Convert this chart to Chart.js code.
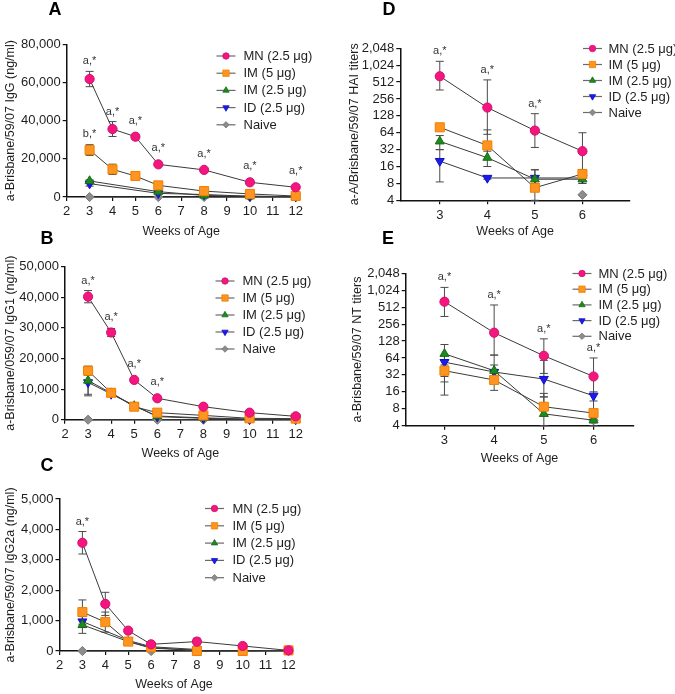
<!DOCTYPE html>
<html><head><meta charset="utf-8">
<script src="https://cdn.jsdelivr.net/npm/chart.js@4/dist/chart.umd.min.js"></script>
<style>
html,body{margin:0;padding:0;background:#fff;}
#wrap{position:relative;width:675px;height:694px;overflow:hidden;background:#fff;}
#wrap canvas{position:absolute;left:0;top:0;}
</style></head><body>
<div id="wrap">
<canvas id="cA" width="675" height="694"></canvas>
<canvas id="cB" width="675" height="694"></canvas>
<canvas id="cC" width="675" height="694"></canvas>
<canvas id="cD" width="675" height="694"></canvas>
<canvas id="cE" width="675" height="694"></canvas>
</div>
<script>
// ================= DATA =================
const groupNames = ['MN (2.5 μg)', 'IM (5 μg)', 'IM (2.5 μg)', 'ID (2.5 μg)', 'Naive'];
const xTicksLinear = [2,3,4,5,6,7,8,9,10,11,12];
const xTicksDE = [3,4,5,6];
const yTicksLog = [4,8,16,32,64,128,256,512,1024,2048];

// Panel A: IgG (ng/ml)
const A_weeksFull = [3,4,5,6,8,10,12];
const A_weeksPart = [3,6,8,10,12];
const A_MN = [61800, 35600, 31600, 17100, 14200, 7700, 5100];
const A_MN_sem = [4000, 3900, 1300, 600, 500, 400, 300];
const A_IM5 = [24600, 14500, 11000, 6100, 3100, 1600, 500];
const A_IM5_sem = [2800, 2700, 600, 400, 300, 200, 100];
const A_IM25 = [8400, 2800, 800, 400, 150];
const A_IM25_sem = [600, 300, 200, 100, 50];
const A_ID = [7000, 1900, 1300, 400, 150];
const A_ID_sem = [1300, 300, 200, 100, 50];
const A_Naive = [0, 0, 0, 0, 0];
const A_MN_notes = ['a,*','a,*','a,*','a,*','a,*','a,*','a,*'];
const A_IM5_notes = ['b,*', null, null, null, null, null, null];

// Panel B: IgG1 (ng/ml)
const B_weeks = [3,4,5,6,8,10,12];
const B_weeksNaive = [3,6,8,10,12];
const B_MN = [40200, 28500, 13000, 7000, 4250, 2300, 1100];
const B_MN_sem = [2000, 1300, 400, 300, 200, 150, 100];
const B_IM5 = [16000, 8800, 4250, 2300, 1400, 450, 350];
const B_IM5_sem = [1500, 1200, 300, 200, 150, 100, 50];
const B_IM25 = [12800, 8700, 4500, 1200, 600, 200, 100];
const B_IM25_sem = [4500, 800, 300, 200, 100, 50, 50];
const B_ID = [12200, 8400, 4600, 1000, 450, 100, 100];
const B_ID_sem = [4400, 800, 300, 200, 100, 50, 50];
const B_Naive = [0, 0, 0, 0, 0];
const B_MN_notes = ['a,*','a,*','a,*','a,*', null, null, null];

// Panel C: IgG2a (ng/ml)
const C_weeks = [3,4,5,6,8,10,12];
const C_weeksPart = [3,5,6,8];
const C_weeksNaive = [3,6,8,12];
const C_MN = [3560, 1550, 670, 220, 310, 165, 20];
const C_MN_sem = [370, 380, 50, 40, 110, 30, 10];
const C_IM5 = [1280, 950, 310, 120, 0, 0, 20];
const C_IM5_sem = [400, 330, 110, 30, 20, 0, 10];
const C_IM25 = [860, 310, 90, 30];
const C_IM25_sem = [280, 60, 30, 20];
const C_ID = [970, 350, 140, 50];
const C_ID_sem = [200, 60, 30, 20];
const C_Naive = [0, 0, 0, 0];
const C_MN_notes = ['a,*', null, null, null, null, null, null];

// Panel D: HAI titers (log2)
const D_weeks = [3,4,5,6];
const D_weeksNaive = [6];
const D_MN = [650, 180, 70, 30];
const D_MN_lo = [370, 60, 35, 14];
const D_MN_hi = [1200, 560, 140, 64];
const D_IM5 = [80, 38, 6.7, 11.8];
const D_IM5_lo = [72, 30, 4, 9];
const D_IM5_hi = [88, 72, 10, 14];
const D_IM25 = [45, 23, 9.5, 9.5];
const D_IM25_lo = [32, 16, 7, 8];
const D_IM25_hi = [57, 40, 14, 12];
const D_ID = [20, 10, 10, 10];
const D_ID_lo = [8.5, 9.5, 8, 8];
const D_ID_hi = [32, 10.5, 14, 12];
const D_Naive = [5];
const D_MN_notes = ['a,*','a,*','a,*', null];

// Panel E: NT titers (log2)
const E_weeks = [3,4,5,6];
const E_weeksNaive = [6];
const E_MN = [640, 180, 70, 30];
const E_MN_lo = [350, 72, 34, 4];
const E_MN_hi = [1150, 560, 140, 64];
const E_IM5 = [38, 26, 8.7, 6.7];
const E_IM5_lo = [14, 17, 6, 6];
const E_IM5_hi = [48, 40, 15, 7.5];
const E_IM25 = [76, 38, 6.5, 5];
const E_IM25_lo = [24, 30, 4, 4.5];
const E_IM25_hi = [111, 72, 13, 5.5];
const E_ID = [54, 36, 27, 13.6];
const E_ID_lo = [30, 24, 13, 11];
const E_ID_hi = [70, 48, 58, 16];
const E_Naive = [5];
const E_MN_notes = ['a,*','a,*','a,*','a,*'];

// ================= STYLE =================
const FONT = "'Liberation Sans', Arial, Helvetica, sans-serif";
Chart.defaults.font.family = FONT;
Chart.defaults.font.size = 13;
Chart.defaults.color = '#1e1e1e';
const seriesStyles = [
  {pointStyle:'circle',  radius:4.6, rotation:0,   fill:'#F5157F', edge:'#D40E6C'},
  {pointStyle:'rect',    radius:6.4, rotation:0,   fill:'#FF9420', edge:'#F08000'},
  {pointStyle:'triangle',radius:5.2, rotation:0,   fill:'#1E8A1E', edge:'#146E14'},
  {pointStyle:'triangle',radius:5.2, rotation:180, fill:'#1B1BEF', edge:'#1010C0'},
  {pointStyle:'rectRot', radius:4.6, rotation:0,   fill:'#8C8C8C', edge:'#7A7A7A'}
];

function series(idx, weeks, vals, extra) {
  const s = seriesStyles[idx];
  return Object.assign({
    label: groupNames[idx],
    data: weeks.map((w, i) => ({x: w, y: vals[i]})),
    borderColor: '#3a3a3a',
    borderWidth: 1,
    pointStyle: s.pointStyle,
    pointRotation: s.rotation,
    pointRadius: s.radius,
    pointHoverRadius: s.radius,
    pointBackgroundColor: s.fill,
    pointBorderColor: s.edge,
    pointBorderWidth: 1,
    tension: 0,
    clip: false,
    styleIdx: idx
  }, extra || {});
}

// ================= PLUGINS =================
const errBarPlugin = {
  id: 'errBars',
  beforeDatasetsDraw(chart) {
    const ctx = chart.ctx, xS = chart.scales.x, yS = chart.scales.y;
    ctx.save();
    ctx.strokeStyle = '#4a4a4a';
    ctx.lineWidth = 1;
    chart.data.datasets.forEach(ds => {
      ds.data.forEach((p, i) => {
        let lo, hi;
        if (ds.errLo) { lo = ds.errLo[i]; hi = ds.errHi[i]; }
        else if (ds.sem) { lo = p.y - ds.sem[i]; hi = p.y + ds.sem[i]; }
        else return;
        if (lo == null || hi == null || !(hi > lo)) return;
        const x = xS.getPixelForValue(p.x);
        const loC = Math.max(lo, yS.min);
        const yLo = yS.getPixelForValue(loC);
        const yHi = yS.getPixelForValue(hi);
        ctx.beginPath();
        ctx.moveTo(x, yLo); ctx.lineTo(x, yHi);
        ctx.moveTo(x - 4, yHi); ctx.lineTo(x + 4, yHi);
        if (lo >= yS.min) { ctx.moveTo(x - 4, yLo); ctx.lineTo(x + 4, yLo); }
        ctx.stroke();
      });
    });
    ctx.restore();
  },
  afterDatasetsDraw(chart) {
    const ctx = chart.ctx, xS = chart.scales.x, yS = chart.scales.y;
    ctx.save();
    ctx.font = '11px ' + FONT;
    ctx.fillStyle = '#333';
    ctx.textAlign = 'center';
    ctx.textBaseline = 'middle';
    chart.data.datasets.forEach(ds => {
      if (!ds.notes) return;
      ds.data.forEach((p, i) => {
        const t = ds.notes[i];
        if (!t) return;
        let top = p.y;
        if (ds.errHi) top = ds.errHi[i];
        else if (ds.sem) top = p.y + ds.sem[i];
        const x = xS.getPixelForValue(p.x);
        const y = Math.min(yS.getPixelForValue(top), yS.getPixelForValue(p.y) - 6) - 10;
        ctx.fillText(t, x, y);
      });
    });
    ctx.restore();
  }
};

const legendPlugin = {
  id: 'gLegend',
  afterDraw(chart, args, opts) {
    if (!opts || opts.x == null) return;
    const ctx = chart.ctx;
    ctx.save();
    chart.data.datasets.forEach((ds, i) => {
      const s = seriesStyles[ds.styleIdx];
      const y = opts.y + i * opts.dy;
      ctx.strokeStyle = '#6a6a6a';
      ctx.lineWidth = 1.2;
      ctx.beginPath(); ctx.moveTo(opts.x - 9.5, y); ctx.lineTo(opts.x + 9.5, y); ctx.stroke();
      ctx.fillStyle = s.fill;
      ctx.strokeStyle = s.edge;
      ctx.lineWidth = 0.8;
      Chart.helpers.drawPoint(ctx, {pointStyle: s.pointStyle, rotation: s.rotation, radius: s.radius * 0.7, borderWidth: 0.8}, opts.x, y);
      ctx.fillStyle = '#1e1e1e';
      ctx.font = '13px ' + FONT;
      ctx.textAlign = 'left';
      ctx.textBaseline = 'middle';
      ctx.fillText(ds.label, opts.textX, y + 0.5);
    });
    ctx.restore();
  }
};

const panelLabelPlugin = {
  id: 'panelLabel',
  afterDraw(chart, args, opts) {
    if (!opts || !opts.text) return;
    const ctx = chart.ctx;
    ctx.save();
    ctx.font = 'bold 18px ' + FONT;
    ctx.fillStyle = '#000';
    ctx.textAlign = 'center';
    ctx.textBaseline = 'middle';
    ctx.fillText(opts.text, opts.x, opts.y);
    ctx.restore();
  }
};

// ================= CHART BUILDER =================
const W = 675, H = 694, TITLE_OFF = 7.5;
function buildChart(id, datasets, p) {
  const padLeft = p.yTitleX - TITLE_OFF;
  const yW = p.left - padLeft;
  const xH = p.xTitleY + TITLE_OFF - p.bottom;
  const padBottom = H - p.bottom - xH;
  const axisGrid = {display: true, drawOnChartArea: false, drawTicks: true, tickLength: 4, color: '#111', lineWidth: 1.2};
  const axisBorder = {display: true, color: '#111', width: 1.5};
  const titleFont = {size: 12.5, family: FONT};
  const xScale = {
    type: 'linear', min: p.xMin, max: p.xMax,
    grid: axisGrid, border: axisBorder,
    ticks: {autoSkip: false, maxRotation: 0, padding: 3, font: {size: 13}, callback: v => String(v)},
    afterBuildTicks: s => { s.ticks = p.xTicks.map(v => ({value: v})); },
    afterFit: s => { s.height = xH; },
    title: {display: true, text: 'Weeks of Age', font: titleFont, padding: 0, color: '#1e1e1e'}
  };
  const yScale = {
    type: p.log ? 'logarithmic' : 'linear', min: p.yMin, max: p.yMax,
    grid: axisGrid, border: axisBorder,
    ticks: {autoSkip: false, padding: 2, font: {size: 13}, callback: v => Number(v).toLocaleString('en-US')},
    afterBuildTicks: s => { s.ticks = p.yTicks.map(v => ({value: v})); },
    afterFit: s => { s.width = yW; },
    title: {display: true, text: p.yTitle, font: titleFont, padding: 0, color: '#1e1e1e'}
  };
  return new Chart(document.getElementById(id), {
    type: 'line',
    data: {datasets},
    options: {
      responsive: false, animation: false, events: [],
      layout: {padding: {left: padLeft, right: W - p.right, top: p.top, bottom: padBottom}},
      scales: {x: xScale, y: yScale},
      plugins: {
        legend: {display: false}, tooltip: {enabled: false},
        gLegend: p.legend,
        panelLabel: p.label
      }
    },
    plugins: [errBarPlugin, legendPlugin, panelLabelPlugin]
  });
}

function range(a, b, s) { const r = []; for (let v = a; v <= b + 1e-9; v += s) r.push(v); return r; }

// ----- Panel A -----
buildChart('cA', [
  series(0, A_weeksFull, A_MN, {sem: A_MN_sem, notes: A_MN_notes}),
  series(1, A_weeksFull, A_IM5, {sem: A_IM5_sem, notes: A_IM5_notes}),
  series(2, A_weeksPart, A_IM25, {sem: A_IM25_sem}),
  series(3, A_weeksPart, A_ID, {sem: A_ID_sem}),
  series(4, A_weeksPart, A_Naive)
], {left: 66.7, right: 295.7, top: 44.3, bottom: 197, yTitleX: 10.5, xTitleY: 232,
    xMin: 2, xMax: 12, xTicks: xTicksLinear, yMin: 0, yMax: 80000, yTicks: range(0, 80000, 20000),
    yTitle: 'a-Brisbane/59/07 IgG (ng/ml)',
    legend: {x: 226, y: 56, dy: 17.2, textX: 243.5}, label: {text: 'A', x: 55, y: 10}});

// ----- Panel B -----
buildChart('cB', [
  series(0, B_weeks, B_MN, {sem: B_MN_sem, notes: B_MN_notes}),
  series(1, B_weeks, B_IM5, {sem: B_IM5_sem}),
  series(2, B_weeks, B_IM25, {sem: B_IM25_sem}),
  series(3, B_weeks, B_ID, {sem: B_ID_sem}),
  series(4, B_weeksNaive, B_Naive)
], {left: 65, right: 295.7, top: 266.7, bottom: 419.7, yTitleX: 10.5, xTitleY: 454,
    xMin: 2, xMax: 12, xTicks: xTicksLinear, yMin: 0, yMax: 50000, yTicks: range(0, 50000, 10000),
    yTitle: 'a-Brisbane/059/07 IgG1 (ng/ml)',
    legend: {x: 225, y: 281, dy: 17, textX: 242.5}, label: {text: 'B', x: 47, y: 239}});

// ----- Panel C -----
buildChart('cC', [
  series(0, C_weeks, C_MN, {sem: C_MN_sem, notes: C_MN_notes}),
  series(1, C_weeks, C_IM5, {sem: C_IM5_sem}),
  series(2, C_weeksPart, C_IM25, {sem: C_IM25_sem}),
  series(3, C_weeksPart, C_ID, {sem: C_ID_sem}),
  series(4, C_weeksNaive, C_Naive)
], {left: 59.5, right: 288.5, top: 499, bottom: 651, yTitleX: 10.5, xTitleY: 685,
    xMin: 2, xMax: 12, xTicks: xTicksLinear, yMin: 0, yMax: 5000, yTicks: range(0, 5000, 1000),
    yTitle: 'a-Brisbane/59/07 IgG2a (ng/ml)',
    legend: {x: 214.5, y: 508.5, dy: 17.3, textX: 232.5}, label: {text: 'C', x: 47, y: 466}});

// ----- Panel D -----
buildChart('cD', [
  series(0, D_weeks, D_MN, {errLo: D_MN_lo, errHi: D_MN_hi, notes: D_MN_notes}),
  series(1, D_weeks, D_IM5, {errLo: D_IM5_lo, errHi: D_IM5_hi}),
  series(2, D_weeks, D_IM25, {errLo: D_IM25_lo, errHi: D_IM25_hi}),
  series(3, D_weeks, D_ID, {errLo: D_ID_lo, errHi: D_ID_hi}),
  series(4, D_weeksNaive, D_Naive)
], {left: 400.3, right: 630, top: 48.3, bottom: 200.3, yTitleX: 355, xTitleY: 232,
    xMin: 2.17, xMax: 7, xTicks: xTicksDE, log: true, yMin: 4, yMax: 2048, yTicks: yTicksLog,
    yTitle: 'a-A/Brisbane/59/07 HAI titers',
    legend: {x: 592.5, y: 48.5, dy: 16, textX: 608.5}, label: {text: 'D', x: 389, y: 10}});

// ----- Panel E -----
buildChart('cE', [
  series(0, E_weeks, E_MN, {errLo: E_MN_lo, errHi: E_MN_hi, notes: E_MN_notes}),
  series(1, E_weeks, E_IM5, {errLo: E_IM5_lo, errHi: E_IM5_hi}),
  series(2, E_weeks, E_IM25, {errLo: E_IM25_lo, errHi: E_IM25_hi}),
  series(3, E_weeks, E_ID, {errLo: E_ID_lo, errHi: E_ID_hi}),
  series(4, E_weeksNaive, E_Naive)
], {left: 405.7, right: 633.3, top: 273.3, bottom: 425.7, yTitleX: 358, xTitleY: 459,
    xMin: 2.22, xMax: 6.8, xTicks: xTicksDE, log: true, yMin: 4, yMax: 2048, yTicks: yTicksLog,
    yTitle: 'a-Brisbane/59/07 NT titers',
    legend: {x: 582, y: 273.5, dy: 15.7, textX: 598.5}, label: {text: 'E', x: 388, y: 239}});
</script>
</body></html>
